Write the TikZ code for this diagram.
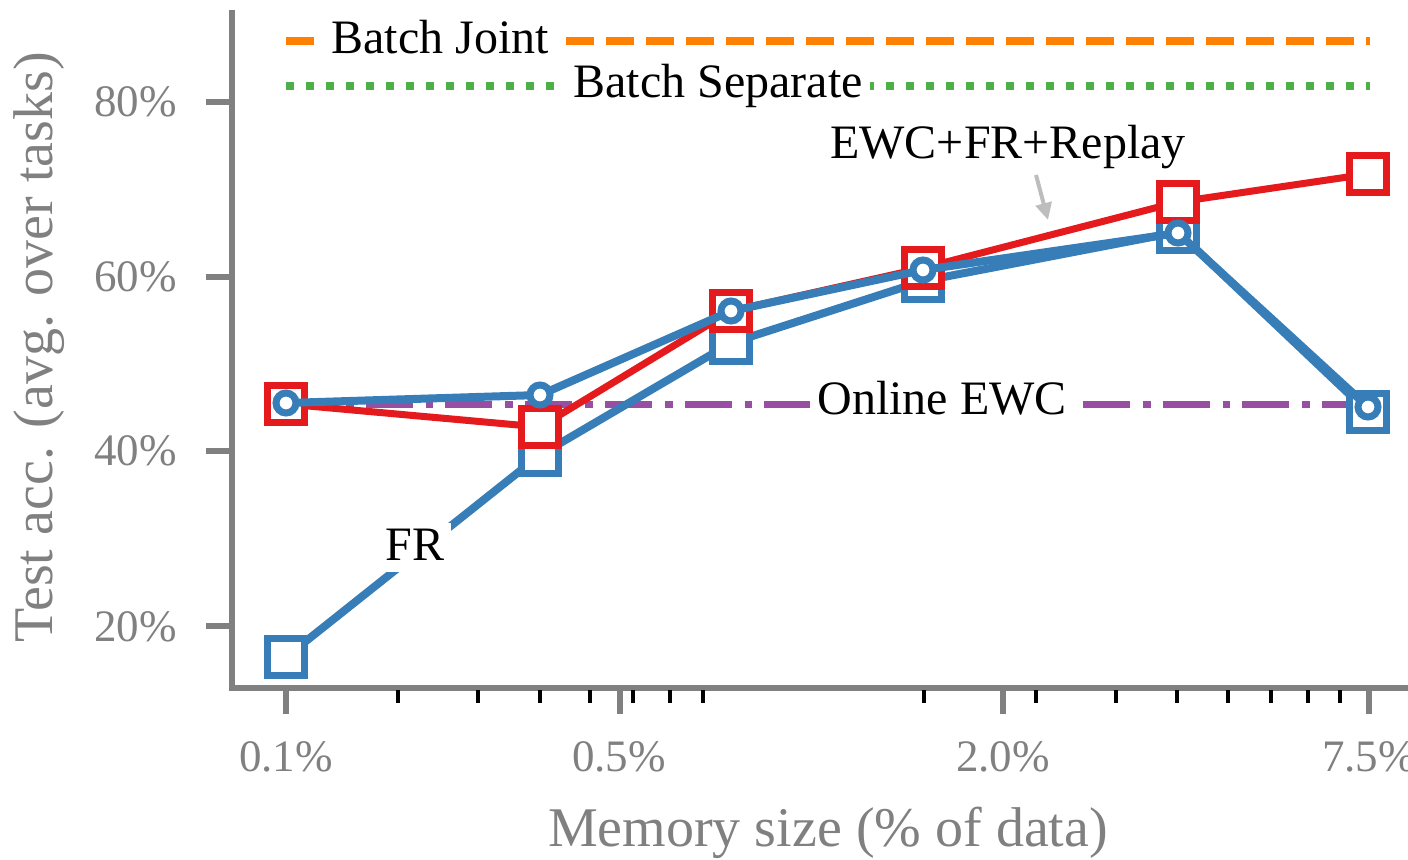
\documentclass[tikz,border=0pt]{standalone}
\usepackage{fontspec}
\setmainfont{Liberation Serif}
\usetikzlibrary{arrows.meta}

\definecolor{axisgray}{HTML}{808080}
\definecolor{pointergray}{HTML}{BDBDBD}
\definecolor{setblue}{HTML}{377EB8}
\definecolor{setred}{HTML}{E41A1C}
\definecolor{setgreen}{HTML}{4DAF4A}
\definecolor{setpurple}{HTML}{984EA3}
\definecolor{setorange}{HTML}{FF7F00}

\tikzset{
  spine/.style={draw=axisgray, line width=3pt, line join=miter},
  majortick/.style={draw=axisgray, line width=2.85pt},
  minortick/.style={draw=black, line width=2.3pt},
  ticklbl/.style={text=axisgray, font=\fontsize{22.5}{27}\selectfont, inner sep=0pt},
  axislbl/.style={text=axisgray, font=\fontsize{28}{34}\selectfont, inner sep=0pt, anchor=base},
  annot/.style={text=black, font=\fontsize{24}{29}\selectfont, anchor=base,
                fill=white, inner sep=3.5pt, text depth=0.22em},
  plainannot/.style={text=black, font=\fontsize{24}{29}\selectfont, anchor=base, inner sep=0pt},
  jointline/.style={draw=setorange, line width=3.75pt, dash pattern=on 14pt off 6pt},
  sepline/.style={draw=setgreen, line width=3.75pt, dash pattern=on 4pt off 6pt},
  onlineline/.style={draw=setpurple, line width=3.5pt,
                     dash pattern=on 23.5pt off 6.5pt on 3.85pt off 6pt},
  frline/.style={draw=setblue, line width=4pt, line join=round},
  ewcline/.style={draw=setblue, line width=4pt, line join=round},
  replayline/.style={draw=setred, line width=3.5pt, line join=round},
  sqmark/.style={line width=3.5pt, fill=white, line join=miter},
  circmark/.style={draw=setblue, line width=3.5pt, fill=white},
  pointer/.style={draw=pointergray, line width=2pt, -{Triangle[length=8.5pt,width=8pt]}}
}

\begin{document}
\begin{tikzpicture}[x=0.5pt,y=-0.5pt]
\useasboundingbox (0,0) rectangle (1408,860);

% ---- axes ----
\draw[spine] (232,10) -- (232,688) -- (1408,688);
\foreach \yy in {102,277,451,626} \draw[majortick] (206,\yy) -- (232,\yy);
\foreach \xx in {286,620,1003,1369} \draw[majortick] (\xx,688) -- (\xx,714);
\foreach \xx in {398,478,540,590,633,670,703,924,1036,1116,1177,1228,1271,1308,1340}
  \draw[minortick] (\xx,690) -- (\xx,703);

\node[ticklbl, anchor=base east] (y80) at (177,117) {80\%};
\node[ticklbl, anchor=base east] (y60) at (177,292) {60\%};
\node[ticklbl, anchor=base east] (y40) at (177,466) {40\%};
\node[ticklbl, anchor=base east] (y20) at (177,641) {20\%};

\node[ticklbl, anchor=base] (x01) at (286,771) {0.1\%};
\node[ticklbl, anchor=base] (x05) at (619,771) {0.5\%};
\node[ticklbl, anchor=base] (x20) at (1003,771) {2.0\%};
\node[ticklbl, anchor=base] (x75) at (1369,771) {7.5\%};

\node[axislbl] (xlabel) at (828,846) {Memory size (\% of data)};
\node[axislbl, rotate=90] (ylabel) at (52,347) {Test acc. (avg. over tasks)};

% ---- reference levels ----
\draw[jointline] (286,41) -- (1370,41);
\draw[sepline] (286,86) -- (1370,86);
\draw[onlineline] (286,405) -- (1368,405);
\node[annot] (joint) at (440,54) {Batch Joint};
\node[annot] (separate) at (718,98) {Batch Separate};
\node[annot] (online) at (942,415) {Online EWC};

% ---- FR ----
\draw[frline] (286,657) -- (540,455) -- (731,343) -- (923,281) -- (1178,232) -- (1368,412);
\node[annot] (frlabel) at (415,561) {FR};
\foreach \xx/\yy in {286/657,540/455,731/343,923/281,1178/232,1368/412}
  \draw[sqmark, draw=setblue] (\xx-18.5,\yy-18.5) rectangle ++(37,37);

% ---- EWC+FR+Replay ----
\draw[replayline] (286,404) -- (540,427) -- (731,311) -- (923,268) -- (1178,202) -- (1368,174);
\foreach \xx/\yy in {286/404,540/427,731/311,923/268,1178/202,1368/174}
  \draw[sqmark, draw=setred] (\xx-18.5,\yy-18.5) rectangle ++(37,37);

% ---- EWC+FR ----
\draw[ewcline] (286,403) -- (540,395) -- (731,311) -- (923,270) -- (1178,233) -- (1368,407);
\foreach \xx/\yy in {286/403,540/395,731/311,923/270,1178/233,1368/407}
  \draw[circmark] (\xx,\yy) circle[radius=5pt];

% ---- callout ----
\node[plainannot] (replaylabel) at (1008,159) {EWC+FR+Replay};
\coordinate (calltail) at (1036,175);
\coordinate (calltip) at (1048,220);
\draw[pointer] (calltail) -- (calltip);
\end{tikzpicture}
\end{document}
